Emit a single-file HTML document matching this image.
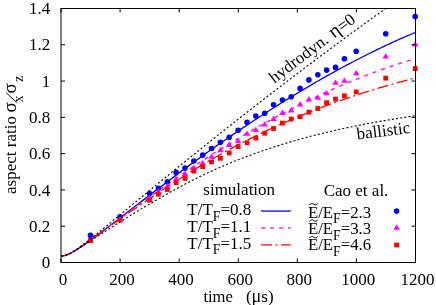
<!DOCTYPE html>
<html><head><meta charset="utf-8"><title>plot</title>
<style>html,body{margin:0;padding:0;background:#fff;}svg{display:block;}text{font-family:"Liberation Serif",serif;fill:#000;}</style></head>
<body>
<svg width="436" height="305" viewBox="0 0 436 305">
<rect x="0" y="0" width="436" height="305" fill="#fff"/>
<g fill="none" stroke-linejoin="round">
<path d="M61.30,255.95 L62.78,255.87 L64.25,255.62 L65.73,255.22 L67.20,254.70 L68.68,254.07 L70.16,253.36 L71.63,252.58 L73.11,251.75 L74.58,250.88 L76.06,249.97 L77.53,249.03 L79.01,248.08 L80.49,247.11 L81.96,246.12 L83.44,245.12 L84.91,244.11 L86.39,243.09 L87.86,242.06 L89.34,241.03 L90.82,239.99 L92.29,238.92 L93.77,237.83 L95.24,236.74 L96.72,235.64 L98.20,234.54 L99.67,233.43 L101.15,232.32 L102.62,231.20 L104.10,230.08 L105.57,228.96 L107.05,227.84 L108.53,226.71 L110.00,225.58 L111.48,224.45 L112.95,223.31 L114.43,222.18 L115.91,221.05 L117.38,219.91 L118.86,218.78 L120.33,217.64 L121.81,216.50 L123.28,215.37 L124.76,214.23 L126.24,213.10 L127.71,211.96 L129.19,210.83 L130.66,209.69 L132.14,208.56 L133.62,207.42 L135.09,206.29 L136.57,205.16 L138.04,204.02 L139.52,202.89 L141.00,201.76 L142.47,200.63 L143.95,199.50 L145.42,198.37 L146.90,197.25 L148.37,196.12 L149.85,194.99 L151.33,193.87 L152.80,192.74 L154.28,191.62 L155.75,190.49 L157.23,189.37 L158.70,188.25 L160.18,187.13 L161.66,186.01 L163.13,184.90 L164.61,183.78 L166.08,182.67 L167.56,181.55 L169.04,180.44 L170.51,179.33 L171.99,178.22 L173.46,177.12 L174.94,176.01 L176.41,174.91 L177.89,173.81 L179.37,172.71 L180.84,171.62 L182.32,170.52 L183.79,169.43 L185.27,168.35 L186.75,167.26 L188.22,166.18 L189.70,165.10 L191.17,164.02 L192.65,162.94 L194.12,161.87 L195.60,160.80 L197.08,159.73 L198.55,158.67 L200.03,157.61 L201.50,156.55 L202.98,155.49 L204.46,154.44 L205.93,153.38 L207.41,152.34 L208.88,151.29 L210.36,150.25 L211.83,149.21 L213.31,148.17 L214.79,147.13 L216.26,146.10 L217.74,145.07 L219.21,144.04 L220.69,143.01 L222.17,141.99 L223.64,140.97 L225.12,139.95 L226.59,138.93 L228.07,137.92 L229.55,136.91 L231.02,135.90 L232.50,134.89 L233.97,133.88 L235.45,132.88 L236.92,131.88 L238.40,130.88 L239.88,129.89 L241.35,128.89 L242.83,127.90 L244.30,126.91 L245.78,125.93 L247.25,124.94 L248.73,123.96 L250.21,122.99 L251.68,122.01 L253.16,121.04 L254.63,120.07 L256.11,119.10 L257.59,118.14 L259.06,117.17 L260.54,116.21 L262.01,115.26 L263.49,114.30 L264.96,113.35 L266.44,112.40 L267.92,111.46 L269.39,110.51 L270.87,109.57 L272.34,108.63 L273.82,107.70 L275.30,106.76 L276.77,105.83 L278.25,104.91 L279.72,103.98 L281.20,103.06 L282.68,102.14 L284.15,101.23 L285.63,100.31 L287.10,99.40 L288.58,98.49 L290.05,97.59 L291.53,96.69 L293.01,95.79 L294.48,94.89 L295.96,94.00 L297.43,93.11 L298.91,92.22 L300.38,91.34 L301.86,90.45 L303.34,89.57 L304.81,88.70 L306.29,87.83 L307.76,86.96 L309.24,86.09 L310.72,85.22 L312.19,84.36 L313.67,83.50 L315.14,82.65 L316.62,81.80 L318.10,80.95 L319.57,80.10 L321.05,79.26 L322.52,78.42 L324.00,77.58 L325.47,76.75 L326.95,75.92 L328.43,75.09 L329.90,74.27 L331.38,73.45 L332.85,72.63 L334.33,71.81 L335.81,71.00 L337.28,70.19 L338.76,69.39 L340.23,68.59 L341.71,67.79 L343.18,66.99 L344.66,66.20 L346.14,65.41 L347.61,64.63 L349.09,63.85 L350.56,63.07 L352.04,62.29 L353.51,61.52 L354.99,60.75 L356.47,59.99 L357.94,59.23 L359.42,58.47 L360.89,57.71 L362.37,56.96 L363.85,56.21 L365.32,55.47 L366.80,54.73 L368.27,53.99 L369.75,53.26 L371.23,52.53 L372.70,51.80 L374.18,51.08 L375.65,50.36 L377.13,49.64 L378.60,48.93 L380.08,48.22 L381.56,47.52 L383.03,46.82 L384.51,46.12 L385.98,45.43 L387.46,44.74 L388.94,44.05 L390.41,43.37 L391.89,42.69 L393.36,42.02 L394.84,41.35 L396.31,40.68 L397.79,40.02 L399.27,39.36 L400.74,38.71 L402.22,38.05 L403.69,37.41 L405.17,36.76 L406.65,36.12 L408.12,35.49 L409.60,34.86 L411.07,34.23 L412.55,33.61 L414.02,32.99 L415.50,32.37" stroke="#00f" stroke-width="1.3"/>
<path d="M61.30,255.95 L62.78,255.86 L64.25,255.61 L65.73,255.21 L67.20,254.68 L68.68,254.05 L70.16,253.33 L71.63,252.54 L73.11,251.69 L74.58,250.80 L76.06,249.87 L77.53,248.92 L79.01,247.94 L80.49,246.94 L81.96,245.92 L83.44,244.90 L84.91,243.86 L86.39,242.81 L87.86,241.75 L89.34,240.69 L90.82,239.62 L92.29,238.55 L93.77,237.47 L95.24,236.39 L96.72,235.31 L98.20,234.22 L99.67,233.14 L101.15,232.05 L102.62,230.96 L104.10,229.87 L105.57,228.78 L107.05,227.69 L108.53,226.60 L110.00,225.52 L111.48,224.43 L112.95,223.34 L114.43,222.26 L115.91,221.17 L117.38,220.09 L118.86,219.01 L120.33,217.93 L121.81,216.85 L123.28,215.78 L124.76,214.70 L126.24,213.63 L127.71,212.56 L129.19,211.49 L130.66,210.43 L132.14,209.36 L133.62,208.30 L135.09,207.24 L136.57,206.18 L138.04,205.12 L139.52,204.06 L141.00,203.01 L142.47,201.95 L143.95,200.90 L145.42,199.85 L146.90,198.80 L148.37,197.75 L149.85,196.70 L151.33,195.66 L152.80,194.61 L154.28,193.57 L155.75,192.53 L157.23,191.48 L158.70,190.44 L160.18,189.40 L161.66,188.37 L163.13,187.33 L164.61,186.30 L166.08,185.26 L167.56,184.23 L169.04,183.20 L170.51,182.18 L171.99,181.15 L173.46,180.13 L174.94,179.11 L176.41,178.09 L177.89,177.07 L179.37,176.06 L180.84,175.05 L182.32,174.04 L183.79,173.04 L185.27,172.03 L186.75,171.03 L188.22,170.04 L189.70,169.05 L191.17,168.06 L192.65,167.07 L194.12,166.09 L195.60,165.11 L197.08,164.14 L198.55,163.16 L200.03,162.20 L201.50,161.23 L202.98,160.27 L204.46,159.31 L205.93,158.36 L207.41,157.41 L208.88,156.47 L210.36,155.52 L211.83,154.58 L213.31,153.65 L214.79,152.72 L216.26,151.79 L217.74,150.86 L219.21,149.94 L220.69,149.02 L222.17,148.11 L223.64,147.20 L225.12,146.29 L226.59,145.38 L228.07,144.48 L229.55,143.59 L231.02,142.69 L232.50,141.80 L233.97,140.91 L235.45,140.03 L236.92,139.15 L238.40,138.27 L239.88,137.40 L241.35,136.52 L242.83,135.66 L244.30,134.79 L245.78,133.93 L247.25,133.07 L248.73,132.22 L250.21,131.37 L251.68,130.52 L253.16,129.68 L254.63,128.84 L256.11,128.00 L257.59,127.16 L259.06,126.33 L260.54,125.51 L262.01,124.68 L263.49,123.86 L264.96,123.04 L266.44,122.23 L267.92,121.42 L269.39,120.61 L270.87,119.81 L272.34,119.01 L273.82,118.21 L275.30,117.42 L276.77,116.63 L278.25,115.84 L279.72,115.06 L281.20,114.28 L282.68,113.50 L284.15,112.73 L285.63,111.96 L287.10,111.19 L288.58,110.43 L290.05,109.67 L291.53,108.92 L293.01,108.16 L294.48,107.42 L295.96,106.67 L297.43,105.93 L298.91,105.19 L300.38,104.46 L301.86,103.73 L303.34,103.00 L304.81,102.27 L306.29,101.55 L307.76,100.84 L309.24,100.12 L310.72,99.41 L312.19,98.71 L313.67,98.00 L315.14,97.31 L316.62,96.61 L318.10,95.92 L319.57,95.23 L321.05,94.55 L322.52,93.86 L324.00,93.19 L325.47,92.51 L326.95,91.84 L328.43,91.18 L329.90,90.51 L331.38,89.86 L332.85,89.20 L334.33,88.55 L335.81,87.90 L337.28,87.26 L338.76,86.62 L340.23,85.98 L341.71,85.35 L343.18,84.72 L344.66,84.09 L346.14,83.47 L347.61,82.85 L349.09,82.24 L350.56,81.62 L352.04,81.02 L353.51,80.41 L354.99,79.82 L356.47,79.22 L357.94,78.63 L359.42,78.04 L360.89,77.46 L362.37,76.88 L363.85,76.30 L365.32,75.73 L366.80,75.16 L368.27,74.59 L369.75,74.03 L371.23,73.48 L372.70,72.92 L374.18,72.37 L375.65,71.83 L377.13,71.29 L378.60,70.75 L380.08,70.22 L381.56,69.69 L383.03,69.16 L384.51,68.64 L385.98,68.13 L387.46,67.61 L388.94,67.10 L390.41,66.60 L391.89,66.10 L393.36,65.60 L394.84,65.11 L396.31,64.62 L397.79,64.13 L399.27,63.65 L400.74,63.18 L402.22,62.70 L403.69,62.24 L405.17,61.77 L406.65,61.31 L408.12,60.86 L409.60,60.41 L411.07,59.96 L412.55,59.51 L414.02,59.08 L415.50,58.64" stroke="#f0f" stroke-width="1.3" stroke-dasharray="4 5" stroke-dashoffset="-2.7"/>
<path d="M61.30,255.95 L62.78,255.86 L64.25,255.62 L65.73,255.22 L67.20,254.69 L68.68,254.06 L70.16,253.34 L71.63,252.56 L73.11,251.72 L74.58,250.84 L76.06,249.93 L77.53,248.98 L79.01,248.02 L80.49,247.03 L81.96,246.03 L83.44,245.02 L84.91,244.00 L86.39,242.97 L87.86,241.93 L89.34,240.89 L90.82,239.84 L92.29,238.79 L93.77,237.74 L95.24,236.68 L96.72,235.62 L98.20,234.56 L99.67,233.50 L101.15,232.44 L102.62,231.38 L104.10,230.32 L105.57,229.26 L107.05,228.20 L108.53,227.14 L110.00,226.08 L111.48,225.02 L112.95,223.97 L114.43,222.92 L115.91,221.87 L117.38,220.82 L118.86,219.78 L120.33,218.73 L121.81,217.69 L123.28,216.66 L124.76,215.62 L126.24,214.59 L127.71,213.56 L129.19,212.53 L130.66,211.51 L132.14,210.49 L133.62,209.47 L135.09,208.45 L136.57,207.44 L138.04,206.43 L139.52,205.42 L141.00,204.41 L142.47,203.41 L143.95,202.40 L145.42,201.40 L146.90,200.40 L148.37,199.41 L149.85,198.41 L151.33,197.42 L152.80,196.42 L154.28,195.43 L155.75,194.45 L157.23,193.46 L158.70,192.48 L160.18,191.49 L161.66,190.51 L163.13,189.53 L164.61,188.56 L166.08,187.58 L167.56,186.61 L169.04,185.64 L170.51,184.68 L171.99,183.71 L173.46,182.75 L174.94,181.79 L176.41,180.84 L177.89,179.89 L179.37,178.94 L180.84,178.00 L182.32,177.06 L183.79,176.13 L185.27,175.20 L186.75,174.27 L188.22,173.35 L189.70,172.43 L191.17,171.52 L192.65,170.61 L194.12,169.70 L195.60,168.80 L197.08,167.91 L198.55,167.02 L200.03,166.13 L201.50,165.25 L202.98,164.38 L204.46,163.51 L205.93,162.64 L207.41,161.78 L208.88,160.92 L210.36,160.07 L211.83,159.22 L213.31,158.38 L214.79,157.54 L216.26,156.71 L217.74,155.88 L219.21,155.05 L220.69,154.23 L222.17,153.41 L223.64,152.60 L225.12,151.79 L226.59,150.99 L228.07,150.19 L229.55,149.39 L231.02,148.60 L232.50,147.82 L233.97,147.03 L235.45,146.25 L236.92,145.48 L238.40,144.71 L239.88,143.94 L241.35,143.18 L242.83,142.42 L244.30,141.67 L245.78,140.92 L247.25,140.17 L248.73,139.43 L250.21,138.69 L251.68,137.95 L253.16,137.22 L254.63,136.50 L256.11,135.77 L257.59,135.05 L259.06,134.34 L260.54,133.63 L262.01,132.92 L263.49,132.22 L264.96,131.52 L266.44,130.82 L267.92,130.13 L269.39,129.44 L270.87,128.76 L272.34,128.08 L273.82,127.40 L275.30,126.73 L276.77,126.06 L278.25,125.39 L279.72,124.73 L281.20,124.07 L282.68,123.42 L284.15,122.77 L285.63,122.12 L287.10,121.48 L288.58,120.84 L290.05,120.20 L291.53,119.57 L293.01,118.94 L294.48,118.31 L295.96,117.69 L297.43,117.07 L298.91,116.46 L300.38,115.85 L301.86,115.24 L303.34,114.64 L304.81,114.03 L306.29,113.44 L307.76,112.84 L309.24,112.25 L310.72,111.67 L312.19,111.08 L313.67,110.50 L315.14,109.93 L316.62,109.35 L318.10,108.78 L319.57,108.22 L321.05,107.65 L322.52,107.09 L324.00,106.54 L325.47,105.98 L326.95,105.43 L328.43,104.89 L329.90,104.34 L331.38,103.80 L332.85,103.27 L334.33,102.73 L335.81,102.20 L337.28,101.67 L338.76,101.15 L340.23,100.63 L341.71,100.11 L343.18,99.59 L344.66,99.08 L346.14,98.57 L347.61,98.07 L349.09,97.57 L350.56,97.07 L352.04,96.57 L353.51,96.08 L354.99,95.59 L356.47,95.10 L357.94,94.61 L359.42,94.13 L360.89,93.65 L362.37,93.18 L363.85,92.71 L365.32,92.24 L366.80,91.77 L368.27,91.31 L369.75,90.84 L371.23,90.39 L372.70,89.93 L374.18,89.48 L375.65,89.03 L377.13,88.58 L378.60,88.14 L380.08,87.70 L381.56,87.26 L383.03,86.82 L384.51,86.39 L385.98,85.96 L387.46,85.53 L388.94,85.11 L390.41,84.69 L391.89,84.27 L393.36,83.85 L394.84,83.44 L396.31,83.03 L397.79,82.62 L399.27,82.21 L400.74,81.81 L402.22,81.41 L403.69,81.01 L405.17,80.62 L406.65,80.22 L408.12,79.83 L409.60,79.45 L411.07,79.06 L412.55,78.68 L414.02,78.30 L415.50,77.92" stroke="#f00" stroke-width="1.3" stroke-dasharray="11 3.5 2 3.5"/>
</g>
<g fill="#00f"><circle cx="90.5" cy="235.4" r="2.8"/><circle cx="120.0" cy="216.9" r="2.8"/><circle cx="149.5" cy="193.6" r="2.8"/><circle cx="158.4" cy="188.2" r="2.8"/><circle cx="167.3" cy="181.8" r="2.8"/><circle cx="176.1" cy="172.4" r="2.8"/><circle cx="185.0" cy="168.1" r="2.8"/><circle cx="193.8" cy="161.0" r="2.8"/><circle cx="202.7" cy="155.1" r="2.8"/><circle cx="211.5" cy="148.5" r="2.8"/><circle cx="220.4" cy="142.3" r="2.8"/><circle cx="229.2" cy="137.2" r="2.8"/><circle cx="238.1" cy="130.3" r="2.8"/><circle cx="247.0" cy="122.3" r="2.8"/><circle cx="255.8" cy="116.0" r="2.8"/><circle cx="264.7" cy="113.3" r="2.8"/><circle cx="273.5" cy="104.7" r="2.8"/><circle cx="282.4" cy="100.0" r="2.8"/><circle cx="291.2" cy="96.8" r="2.8"/><circle cx="300.1" cy="88.4" r="2.8"/><circle cx="308.9" cy="79.9" r="2.8"/><circle cx="317.8" cy="74.8" r="2.8"/><circle cx="326.6" cy="70.1" r="2.8"/><circle cx="335.5" cy="67.4" r="2.8"/><circle cx="344.4" cy="58.7" r="2.8"/><circle cx="356.2" cy="51.2" r="2.8"/><circle cx="385.7" cy="33.8" r="2.8"/><circle cx="415.2" cy="16.6" r="2.8"/><circle cx="396.6" cy="211.1" r="2.8"/></g>
<g fill="#f0f"><path d="M90.5,237.2 L87.2,242.5 L93.8,242.5 Z"/><path d="M120.0,216.5 L116.7,221.8 L123.3,221.8 Z"/><path d="M149.5,194.7 L146.2,200.0 L152.8,200.0 Z"/><path d="M158.4,188.7 L155.1,194.0 L161.7,194.0 Z"/><path d="M167.3,182.9 L164.0,188.2 L170.6,188.2 Z"/><path d="M176.1,176.0 L172.8,181.3 L179.4,181.3 Z"/><path d="M185.0,171.0 L181.7,176.3 L188.3,176.3 Z"/><path d="M193.8,164.6 L190.5,169.9 L197.1,169.9 Z"/><path d="M202.7,160.1 L199.4,165.4 L206.0,165.4 Z"/><path d="M211.5,153.5 L208.2,158.8 L214.8,158.8 Z"/><path d="M220.4,147.0 L217.1,152.3 L223.7,152.3 Z"/><path d="M229.2,141.6 L225.9,146.9 L232.5,146.9 Z"/><path d="M238.1,137.9 L234.8,143.2 L241.4,143.2 Z"/><path d="M247.0,130.5 L243.7,135.8 L250.3,135.8 Z"/><path d="M255.8,126.7 L252.5,132.0 L259.1,132.0 Z"/><path d="M264.7,121.3 L261.4,126.6 L268.0,126.6 Z"/><path d="M273.5,115.6 L270.2,120.9 L276.8,120.9 Z"/><path d="M282.4,109.6 L279.1,114.9 L285.7,114.9 Z"/><path d="M291.2,107.1 L287.9,112.4 L294.5,112.4 Z"/><path d="M300.1,101.3 L296.8,106.6 L303.4,106.6 Z"/><path d="M308.9,96.2 L305.6,101.5 L312.2,101.5 Z"/><path d="M317.8,94.4 L314.5,99.7 L321.1,99.7 Z"/><path d="M326.6,90.0 L323.3,95.3 L329.9,95.3 Z"/><path d="M335.5,79.5 L332.2,84.8 L338.8,84.8 Z"/><path d="M344.4,77.5 L341.1,82.8 L347.7,82.8 Z"/><path d="M356.2,69.9 L352.9,75.2 L359.5,75.2 Z"/><path d="M385.7,53.2 L382.4,58.5 L389.0,58.5 Z"/><path d="M415.2,41.2 L411.9,46.5 L418.5,46.5 Z"/><path d="M396.6,224.5 L393.3,229.8 L399.9,229.8 Z"/></g>
<g fill="#f00"><rect x="88.1" y="238.0" width="4.8" height="4.8"/><rect x="117.6" y="217.7" width="4.8" height="4.8"/><rect x="147.1" y="197.8" width="4.8" height="4.8"/><rect x="156.0" y="191.8" width="4.8" height="4.8"/><rect x="164.9" y="187.1" width="4.8" height="4.8"/><rect x="173.7" y="180.2" width="4.8" height="4.8"/><rect x="182.6" y="176.0" width="4.8" height="4.8"/><rect x="191.4" y="168.7" width="4.8" height="4.8"/><rect x="200.3" y="164.2" width="4.8" height="4.8"/><rect x="209.1" y="159.5" width="4.8" height="4.8"/><rect x="218.0" y="155.9" width="4.8" height="4.8"/><rect x="226.8" y="150.6" width="4.8" height="4.8"/><rect x="235.7" y="144.2" width="4.8" height="4.8"/><rect x="244.6" y="140.3" width="4.8" height="4.8"/><rect x="253.4" y="135.7" width="4.8" height="4.8"/><rect x="262.3" y="130.8" width="4.8" height="4.8"/><rect x="271.1" y="126.1" width="4.8" height="4.8"/><rect x="280.0" y="120.7" width="4.8" height="4.8"/><rect x="288.8" y="116.7" width="4.8" height="4.8"/><rect x="297.7" y="114.3" width="4.8" height="4.8"/><rect x="306.5" y="109.8" width="4.8" height="4.8"/><rect x="315.4" y="106.1" width="4.8" height="4.8"/><rect x="324.2" y="100.3" width="4.8" height="4.8"/><rect x="333.1" y="96.7" width="4.8" height="4.8"/><rect x="342.0" y="93.4" width="4.8" height="4.8"/><rect x="353.8" y="89.5" width="4.8" height="4.8"/><rect x="383.3" y="75.7" width="4.8" height="4.8"/><rect x="412.8" y="66.1" width="4.8" height="4.8"/><rect x="394.2" y="242.6" width="4.8" height="4.8"/></g>
<g fill="none" stroke="#000" stroke-width="1.1" stroke-dasharray="2 2.2">
<path d="M61.30,255.95 L62.78,255.86 L64.25,255.61 L65.73,255.20 L67.20,254.65 L68.68,253.99 L70.16,253.24 L71.63,252.41 L73.11,251.52 L74.58,250.58 L76.06,249.60 L77.53,248.58 L79.01,247.54 L80.49,246.47 L81.96,245.38 L83.44,244.28 L84.91,243.16 L86.39,242.03 L87.86,240.88 L89.34,239.73 L90.82,238.57 L92.29,237.40 L93.77,236.23 L95.24,235.05 L96.72,233.87 L98.20,232.68 L99.67,231.49 L101.15,230.29 L102.62,229.10 L104.10,227.89 L105.57,226.69 L107.05,225.49 L108.53,224.28 L110.00,223.07 L111.48,221.86 L112.95,220.65 L114.43,219.44 L115.91,218.23 L117.38,217.01 L118.86,215.80 L120.33,214.58 L121.81,213.37 L123.28,212.15 L124.76,210.94 L126.24,209.72 L127.71,208.50 L129.19,207.29 L130.66,206.07 L132.14,204.85 L133.62,203.64 L135.09,202.42 L136.57,201.21 L138.04,199.99 L139.52,198.78 L141.00,197.56 L142.47,196.35 L143.95,195.13 L145.42,193.92 L146.90,192.70 L148.37,191.49 L149.85,190.28 L151.33,189.07 L152.80,187.86 L154.28,186.65 L155.75,185.44 L157.23,184.23 L158.70,183.02 L160.18,181.81 L161.66,180.60 L163.13,179.40 L164.61,178.19 L166.08,176.99 L167.56,175.78 L169.04,174.58 L170.51,173.38 L171.99,172.17 L173.46,170.97 L174.94,169.77 L176.41,168.57 L177.89,167.37 L179.37,166.18 L180.84,164.98 L182.32,163.78 L183.79,162.59 L185.27,161.39 L186.75,160.20 L188.22,159.01 L189.70,157.82 L191.17,156.62 L192.65,155.43 L194.12,154.25 L195.60,153.06 L197.08,151.87 L198.55,150.68 L200.03,149.50 L201.50,148.31 L202.98,147.13 L204.46,145.95 L205.93,144.77 L207.41,143.59 L208.88,142.41 L210.36,141.23 L211.83,140.05 L213.31,138.87 L214.79,137.70 L216.26,136.52 L217.74,135.35 L219.21,134.18 L220.69,133.00 L222.17,131.83 L223.64,130.66 L225.12,129.50 L226.59,128.33 L228.07,127.16 L229.55,126.00 L231.02,124.83 L232.50,123.67 L233.97,122.50 L235.45,121.34 L236.92,120.18 L238.40,119.02 L239.88,117.86 L241.35,116.71 L242.83,115.55 L244.30,114.39 L245.78,113.24 L247.25,112.08 L248.73,110.93 L250.21,109.78 L251.68,108.63 L253.16,107.48 L254.63,106.33 L256.11,105.18 L257.59,104.04 L259.06,102.89 L260.54,101.75 L262.01,100.60 L263.49,99.46 L264.96,98.32 L266.44,97.18 L267.92,96.04 L269.39,94.90 L270.87,93.77 L272.34,92.63 L273.82,91.49 L275.30,90.36 L276.77,89.23 L278.25,88.10 L279.72,86.96 L281.20,85.83 L282.68,84.71 L284.15,83.58 L285.63,82.45 L287.10,81.33 L288.58,80.20 L290.05,79.08 L291.53,77.95 L293.01,76.83 L294.48,75.71 L295.96,74.59 L297.43,73.47 L298.91,72.36 L300.38,71.24 L301.86,70.12 L303.34,69.01 L304.81,67.90 L306.29,66.78 L307.76,65.67 L309.24,64.56 L310.72,63.45 L312.19,62.34 L313.67,61.24 L315.14,60.13 L316.62,59.03 L318.10,57.92 L319.57,56.82 L321.05,55.72 L322.52,54.61 L324.00,53.51 L325.47,52.42 L326.95,51.32 L328.43,50.22 L329.90,49.12 L331.38,48.03 L332.85,46.94 L334.33,45.84 L335.81,44.75 L337.28,43.66 L338.76,42.57 L340.23,41.48 L341.71,40.39 L343.18,39.31 L344.66,38.22 L346.14,37.14 L347.61,36.05 L349.09,34.97 L350.56,33.89 L352.04,32.81 L353.51,31.73 L354.99,30.65 L356.47,29.57 L357.94,28.49 L359.42,27.42 L360.89,26.34 L362.37,25.27 L363.85,24.20 L365.32,23.13 L366.80,22.06 L368.27,20.99 L369.75,19.92 L371.23,18.85 L372.70,17.78 L374.18,16.72 L375.65,15.65 L377.13,14.59 L378.60,13.53 L380.08,12.47 L381.56,11.40 L383.03,10.35 L384.51,9.29 L385.88,8.30"/>
<path d="M61.30,255.95 L62.78,255.87 L64.25,255.62 L65.73,255.23 L67.20,254.72 L68.68,254.11 L70.16,253.42 L71.63,252.67 L73.11,251.88 L74.58,251.04 L76.06,250.18 L77.53,249.29 L79.01,248.39 L80.49,247.47 L81.96,246.53 L83.44,245.59 L84.91,244.64 L86.39,243.69 L87.86,242.73 L89.34,241.77 L90.82,240.80 L92.29,239.84 L93.77,238.87 L95.24,237.90 L96.72,236.93 L98.20,235.96 L99.67,234.99 L101.15,234.03 L102.62,233.06 L104.10,232.10 L105.57,231.14 L107.05,230.18 L108.53,229.23 L110.00,228.27 L111.48,227.32 L112.95,226.38 L114.43,225.44 L115.91,224.50 L117.38,223.56 L118.86,222.63 L120.33,221.71 L121.81,220.79 L123.28,219.87 L124.76,218.95 L126.24,218.04 L127.71,217.14 L129.19,216.24 L130.66,215.34 L132.14,214.44 L133.62,213.55 L135.09,212.67 L136.57,211.78 L138.04,210.90 L139.52,210.02 L141.00,209.15 L142.47,208.27 L143.95,207.40 L145.42,206.54 L146.90,205.67 L148.37,204.81 L149.85,203.95 L151.33,203.09 L152.80,202.23 L154.28,201.37 L155.75,200.52 L157.23,199.67 L158.70,198.82 L160.18,197.97 L161.66,197.12 L163.13,196.28 L164.61,195.44 L166.08,194.60 L167.56,193.76 L169.04,192.93 L170.51,192.10 L171.99,191.27 L173.46,190.45 L174.94,189.63 L176.41,188.82 L177.89,188.01 L179.37,187.20 L180.84,186.40 L182.32,185.61 L183.79,184.82 L185.27,184.03 L186.75,183.25 L188.22,182.48 L189.70,181.71 L191.17,180.95 L192.65,180.20 L194.12,179.45 L195.60,178.70 L197.08,177.97 L198.55,177.24 L200.03,176.51 L201.50,175.79 L202.98,175.08 L204.46,174.38 L205.93,173.68 L207.41,172.98 L208.88,172.29 L210.36,171.61 L211.83,170.94 L213.31,170.27 L214.79,169.60 L216.26,168.94 L217.74,168.29 L219.21,167.64 L220.69,167.00 L222.17,166.36 L223.64,165.73 L225.12,165.10 L226.59,164.48 L228.07,163.86 L229.55,163.25 L231.02,162.64 L232.50,162.04 L233.97,161.44 L235.45,160.85 L236.92,160.26 L238.40,159.68 L239.88,159.10 L241.35,158.53 L242.83,157.96 L244.30,157.39 L245.78,156.83 L247.25,156.28 L248.73,155.73 L250.21,155.18 L251.68,154.64 L253.16,154.10 L254.63,153.57 L256.11,153.04 L257.59,152.52 L259.06,152.00 L260.54,151.48 L262.01,150.97 L263.49,150.46 L264.96,149.96 L266.44,149.46 L267.92,148.97 L269.39,148.48 L270.87,147.99 L272.34,147.51 L273.82,147.03 L275.30,146.55 L276.77,146.08 L278.25,145.62 L279.72,145.15 L281.20,144.69 L282.68,144.24 L284.15,143.79 L285.63,143.34 L287.10,142.90 L288.58,142.46 L290.05,142.02 L291.53,141.59 L293.01,141.16 L294.48,140.74 L295.96,140.31 L297.43,139.90 L298.91,139.48 L300.38,139.07 L301.86,138.66 L303.34,138.26 L304.81,137.86 L306.29,137.46 L307.76,137.07 L309.24,136.68 L310.72,136.29 L312.19,135.91 L313.67,135.53 L315.14,135.15 L316.62,134.77 L318.10,134.40 L319.57,134.04 L321.05,133.67 L322.52,133.31 L324.00,132.95 L325.47,132.60 L326.95,132.24 L328.43,131.89 L329.90,131.55 L331.38,131.20 L332.85,130.86 L334.33,130.53 L335.81,130.19 L337.28,129.86 L338.76,129.53 L340.23,129.20 L341.71,128.88 L343.18,128.56 L344.66,128.24 L346.14,127.93 L347.61,127.61 L349.09,127.30 L350.56,127.00 L352.04,126.69 L353.51,126.39 L354.99,126.09 L356.47,125.79 L357.94,125.50 L359.42,125.21 L360.89,124.92 L362.37,124.63 L363.85,124.34 L365.32,124.06 L366.80,123.78 L368.27,123.50 L369.75,123.23 L371.23,122.96 L372.70,122.69 L374.18,122.42 L375.65,122.15 L377.13,121.89 L378.60,121.62 L380.08,121.37 L381.56,121.11 L383.03,120.85 L384.51,120.60 L385.98,120.35 L387.46,120.10 L388.94,119.85 L390.41,119.61 L391.89,119.36 L393.36,119.12 L394.84,118.88 L396.31,118.65 L397.79,118.41 L399.27,118.18 L400.74,117.95 L402.22,117.72 L403.69,117.49 L405.17,117.27 L406.65,117.04 L408.12,116.82 L409.60,116.60 L411.07,116.38 L412.55,116.17 L414.02,115.95 L415.50,115.74"/>
</g>
<g stroke="#000" stroke-width="1" fill="none">
<rect x="61.0" y="8.5" width="354.5" height="254.0"/>
<path d="M61.00,262.50 v-4.0 M61.00,8.50 v4.0 M120.08,262.50 v-4.0 M120.08,8.50 v4.0 M179.17,262.50 v-4.0 M179.17,8.50 v4.0 M238.25,262.50 v-4.0 M238.25,8.50 v4.0 M297.33,262.50 v-4.0 M297.33,8.50 v4.0 M356.42,262.50 v-4.0 M356.42,8.50 v4.0 M415.50,262.50 v-4.0 M415.50,8.50 v4.0 M61.00,262.50 h4.0 M415.50,262.50 h-4.0 M61.00,226.21 h4.0 M415.50,226.21 h-4.0 M61.00,189.93 h4.0 M415.50,189.93 h-4.0 M61.00,153.64 h4.0 M415.50,153.64 h-4.0 M61.00,117.36 h4.0 M415.50,117.36 h-4.0 M61.00,81.07 h4.0 M415.50,81.07 h-4.0 M61.00,44.79 h4.0 M415.50,44.79 h-4.0 M61.00,8.50 h4.0 M415.50,8.50 h-4.0 "/>
</g>
<g font-size="17.0" style="filter:grayscale(1)">
<text x="62.9" y="284.8" text-anchor="middle">0</text>
<text x="122.0" y="284.8" text-anchor="middle">200</text>
<text x="181.1" y="284.8" text-anchor="middle">400</text>
<text x="240.2" y="284.8" text-anchor="middle">600</text>
<text x="299.2" y="284.8" text-anchor="middle">800</text>
<text x="358.3" y="284.8" text-anchor="middle">1000</text>
<text x="417.4" y="284.8" text-anchor="middle">1200</text>
<text x="50.3" y="268.1" text-anchor="end">0</text>
<text x="50.3" y="231.8" text-anchor="end">0.2</text>
<text x="50.3" y="195.5" text-anchor="end">0.4</text>
<text x="50.3" y="159.2" text-anchor="end">0.6</text>
<text x="50.3" y="123.0" text-anchor="end">0.8</text>
<text x="50.3" y="86.7" text-anchor="end">1</text>
<text x="50.3" y="50.4" text-anchor="end">1.2</text>
<text x="50.3" y="14.1" text-anchor="end">1.4</text>
<text x="203.4" y="301.5" font-size="16.6">time</text><text x="245.9" y="301.5">(<tspan font-size="18.2">μ</tspan>s)</text>
<g transform="translate(16.3,0) rotate(-90)"><text x="-194">aspect ratio</text><text x="-112.6" font-size="19">σ</text><text x="-102.2" y="6.5" font-size="13.6">x</text><path d="M-102.5,0.3 L-92.6,-10.2" stroke="#000" stroke-width="0.95"/><text x="-93.4" font-size="19">σ</text><text x="-81.8" y="6.5" font-size="13.6">z</text></g>
<text transform="translate(274.2,83.7) rotate(-37)">hydrodyn. <tspan dx="1.2" font-size="19.5">η</tspan>=0</text>
<text transform="translate(357.2,139.5) rotate(-7)">ballistic</text>
<text x="203.3" y="195.4">simulation</text>
<text x="323.7" y="195.5">Cao et al.</text>
<text x="187.3" y="215.3">T/T<tspan font-size="13.8" dy="5.8">F</tspan><tspan dy="-5.8">=0.8</tspan></text>
<text x="187.3" y="231.9">T/T<tspan font-size="13.8" dy="5.8">F</tspan><tspan dy="-5.8">=1.1</tspan></text>
<text x="187.3" y="248.5">T/T<tspan font-size="13.8" dy="5.8">F</tspan><tspan dy="-5.8">=1.5</tspan></text>
<text x="307.9" y="217.5" font-size="16.8">E/E<tspan font-size="13.8" dy="5.8">F</tspan><tspan dy="-5.8">=2.3</tspan></text>
<path transform="translate(0,217.5)" d="M309.5,-12.4 C310.7,-14.4 312.3,-14.3 313.6,-13.3 C315.0,-12.2 316.6,-12.1 317.8,-14.1" fill="none" stroke="#000" stroke-width="1"/>
<text x="307.9" y="233.8" font-size="16.8">E/E<tspan font-size="13.8" dy="5.8">F</tspan><tspan dy="-5.8">=3.3</tspan></text>
<path transform="translate(0,233.8)" d="M309.5,-12.4 C310.7,-14.4 312.3,-14.3 313.6,-13.3 C315.0,-12.2 316.6,-12.1 317.8,-14.1" fill="none" stroke="#000" stroke-width="1"/>
<text x="307.9" y="250.4" font-size="16.8">E/E<tspan font-size="13.8" dy="5.8">F</tspan><tspan dy="-5.8">=4.6</tspan></text>
<path transform="translate(0,250.4)" d="M309.5,-12.4 C310.7,-14.4 312.3,-14.3 313.6,-13.3 C315.0,-12.2 316.6,-12.1 317.8,-14.1" fill="none" stroke="#000" stroke-width="1"/>
</g>
<g fill="none" stroke-width="1.3"><path d="M261,211.1 H290.8" stroke="#00f"/><path d="M261,227.8 H290.8" stroke="#f0f" stroke-dasharray="4 5"/><path d="M261,244.8 H290.8" stroke="#f00" stroke-dasharray="11 3.5 2 3.5"/></g>
</svg></body></html>
